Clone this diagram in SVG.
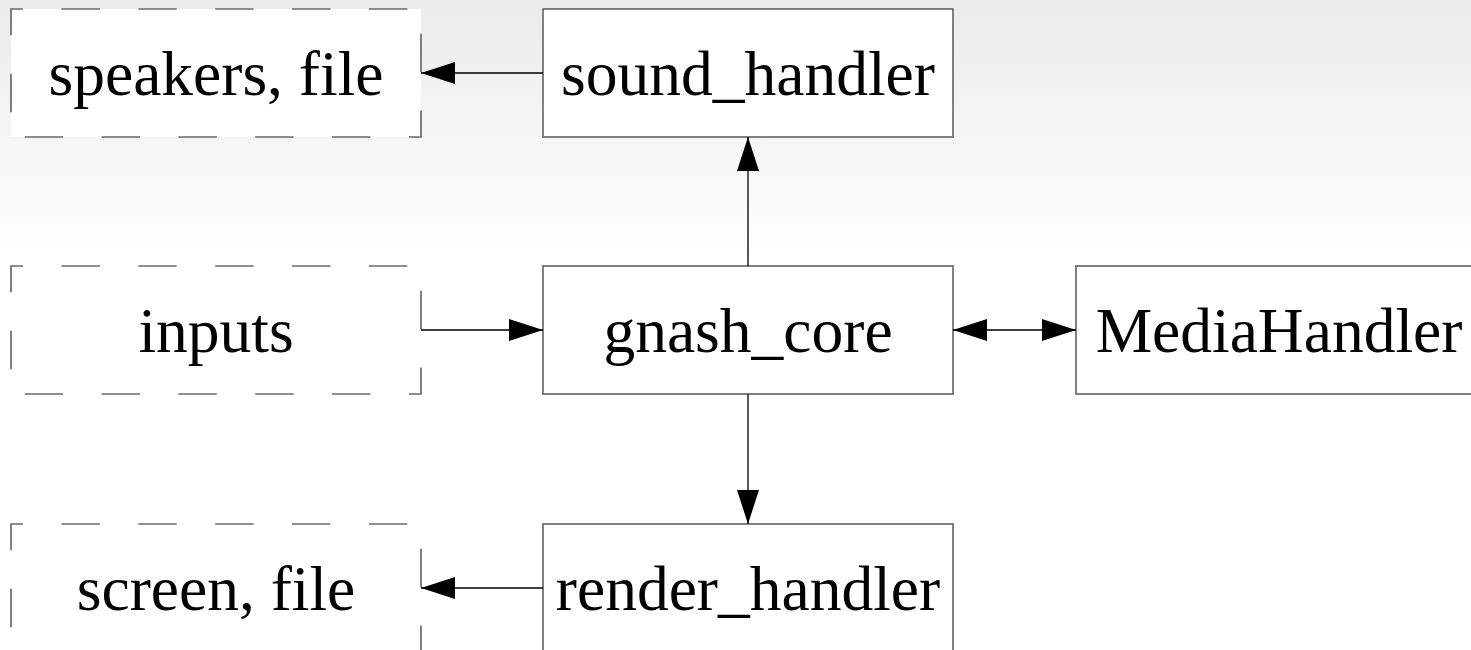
<svg xmlns="http://www.w3.org/2000/svg" width="1471" height="650" viewBox="0 0 1471 650">
  <defs>
    <linearGradient id="bg" gradientUnits="userSpaceOnUse" x1="0" y1="0" x2="0" y2="266">
      <stop offset="0" stop-color="#ebebeb"/>
      <stop offset="1" stop-color="#ffffff"/>
    </linearGradient>
    <marker id="arrow" markerUnits="userSpaceOnUse" markerWidth="34" markerHeight="22" refX="34" refY="11" orient="auto-start-reverse" viewBox="0 0 34 22">
      <path d="M0,0 L34,11 L0,22 z" fill="#000"/>
    </marker>
    <style>
      .box { fill: #ffffff; stroke: #6a6a6a; stroke-width: 1.7; }
      .ext { fill: #ffffff; stroke: #6a6a6a; stroke-width: 1.7; stroke-dasharray: 38.43 38.43; stroke-dashoffset: 26.4; }
      .lbl { font-family: "Liberation Serif", "Times New Roman", serif; font-size: 63.5px; fill: #000000; text-anchor: middle; }
      .conn { stroke: #000000; stroke-width: 1.3; fill: none; marker-end: url(#arrow); }
    </style>
  </defs>
  <rect x="0" y="0" width="1471" height="650" fill="url(#bg)"/>

  <g id="node-speakers">
    <rect class="ext" x="11" y="9" width="410" height="128"/>
    <text class="lbl" x="216" y="95">speakers, file</text>
  </g>
  <g id="node-sound_handler">
    <rect class="box" x="543" y="9" width="410" height="128"/>
    <text class="lbl" x="748" y="95">sound_handler</text>
  </g>
  <g id="node-inputs">
    <rect class="ext" x="11" y="266" width="410" height="128"/>
    <text class="lbl" x="216" y="352">inputs</text>
  </g>
  <g id="node-gnash_core">
    <rect class="box" x="543" y="266" width="410" height="128"/>
    <text class="lbl" x="748" y="352">gnash_core</text>
  </g>
  <g id="node-MediaHandler">
    <rect class="box" x="1076" y="266" width="410" height="128"/>
    <text class="lbl" x="1279" y="352">MediaHandler</text>
  </g>
  <g id="node-screen">
    <rect class="ext" x="11" y="524" width="410" height="128"/>
    <text class="lbl" x="216" y="610">screen, file</text>
  </g>
  <g id="node-render_handler">
    <rect class="box" x="543" y="524" width="410" height="128"/>
    <text class="lbl" x="748" y="610">render_handler</text>
  </g>

  <g id="connectors">
    <line class="conn" x1="543" y1="73" x2="421" y2="73"/>
    <line class="conn" x1="748" y1="266" x2="748" y2="137"/>
    <line class="conn" x1="421" y1="330" x2="543" y2="330"/>
    <line class="conn" x1="953" y1="330" x2="1076" y2="330" style="marker-start: url(#arrow);"/>
    <line class="conn" x1="748" y1="394" x2="748" y2="524"/>
    <line class="conn" x1="543" y1="588" x2="421" y2="588"/>
  </g>
</svg>
